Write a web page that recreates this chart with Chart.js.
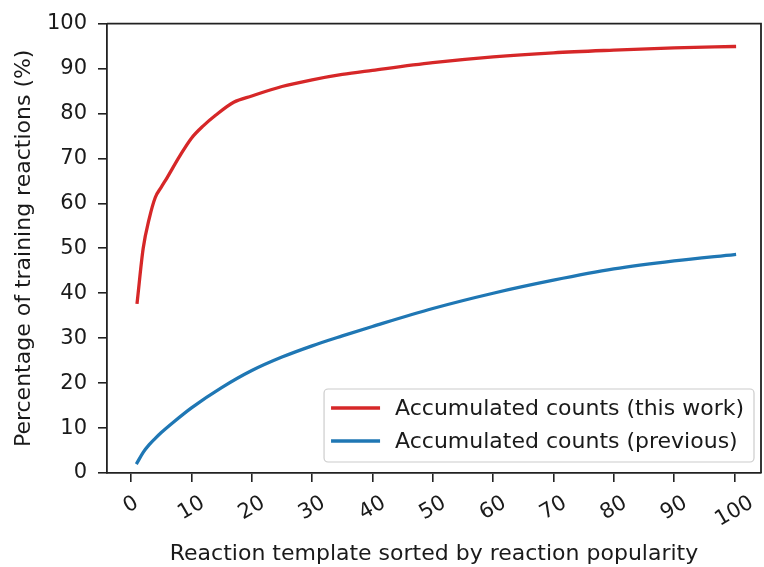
<!DOCTYPE html>
<html>
<head>
<meta charset="utf-8">
<script src="https://cdn.jsdelivr.net/npm/chart.js@4.4.0/dist/chart.umd.min.js"></script>
<style>
  html, body { margin: 0; padding: 0; background: #fff; overflow: hidden; }
  canvas { display: block; }
</style>
</head>
<body>
<canvas id="popularityChart" width="764" height="567"></canvas>
<script>
// data
const redRank = [1, 2, 3, 4, 5, 6, 8, 10, 12, 14, 17, 20, 25, 30, 35, 40, 50, 60, 70, 80, 90, 100];
const redPct = [38.0, 50.0, 56.6, 61.3, 63.6, 65.8, 70.4, 74.5, 77.3, 79.6, 82.5, 83.9, 86.0, 87.5, 88.7, 89.6, 91.3, 92.6, 93.5, 94.1, 94.6, 94.9];
const blueRank = [1, 2, 3, 4, 5, 7, 10, 15, 20, 25, 30, 35, 40, 50, 60, 70, 80, 90, 100];
const bluePct = [2.3, 4.6, 6.3, 7.7, 9.0, 11.3, 14.5, 19.0, 22.8, 25.8, 28.3, 30.5, 32.6, 36.6, 40.0, 42.9, 45.4, 47.2, 48.6];
const xTicks = [0, 10, 20, 30, 40, 50, 60, 70, 80, 90, 100];
const yTicks = [0, 10, 20, 30, 40, 50, 60, 70, 80, 90, 100];
const seriesLabels = ['Accumulated counts (this work)', 'Accumulated counts (previous)'];
const seriesColors = ['#d62728', '#1f77b4'];

const FONT = "'DejaVu Sans', sans-serif";
const TEXT = '#1a1a1a';
const AXIS = '#222222';

function toPoints(xs, ys) {
    return xs.map((x, i) => ({ x: x, y: ys[i] }));
}

// top and right spines
const framePlugin = {
    id: 'frame',
    afterDraw(chart) {
        const { ctx, chartArea: a } = chart;
        ctx.save();
        ctx.strokeStyle = AXIS;
        ctx.lineWidth = 1.8;
        ctx.beginPath();
        ctx.moveTo(a.left, a.top);
        ctx.lineTo(a.right, a.top);
        ctx.lineTo(a.right, a.bottom);
        ctx.stroke();
        ctx.restore();
    }
};

// rotated x tick labels, centred under the tick like matplotlib
const xLabelPlugin = {
    id: 'xLabels',
    afterDraw(chart) {
        const { ctx, chartArea: a } = chart;
        const scale = chart.scales.x;
        const size = 21;
        const ang = Math.PI / 6;
        ctx.save();
        ctx.font = size + 'px ' + FONT;
        ctx.fillStyle = TEXT;
        ctx.textAlign = 'center';
        ctx.textBaseline = 'middle';
        scale.ticks.forEach(t => {
            const label = String(t.value);
            const w = ctx.measureText(label).width;
            const boxH = w * Math.sin(ang) + size * 1.164 * Math.cos(ang);
            const cx = scale.getPixelForValue(t.value);
            const cy = a.bottom + 18 + boxH / 2;
            ctx.save();
            ctx.translate(cx, cy);
            ctx.rotate(-ang);
            ctx.fillText(label, 0, 0);
            ctx.restore();
        });
        ctx.restore();
    }
};

// legend box in the lower right of the plot
const legendBoxPlugin = {
    id: 'legendBox',
    afterDatasetsDraw(chart) {
        const { ctx, chartArea: a } = chart;
        ctx.save();
        ctx.font = '22px ' + FONT;
        const textW = Math.max(...seriesLabels.map(s => ctx.measureText(s).width));
        const w = 7 + 49 + 15 + textW + 10;
        const h = 73;
        const right = a.right - 7;
        const bottom = a.bottom - 11;
        const left = right - w;
        const top = bottom - h;

        ctx.beginPath();
        ctx.roundRect(left, top, w, h, 4);
        ctx.fillStyle = 'rgba(255,255,255,0.8)';
        ctx.fill();
        ctx.strokeStyle = '#cccccc';
        ctx.lineWidth = 1.2;
        ctx.stroke();

        seriesLabels.forEach((label, i) => {
            const y = top + 19 + i * 33;
            ctx.beginPath();
            ctx.moveTo(left + 7, y);
            ctx.lineTo(left + 56, y);
            ctx.strokeStyle = seriesColors[i];
            ctx.lineWidth = 3.3;
            ctx.stroke();
            ctx.fillStyle = TEXT;
            ctx.textAlign = 'left';
            ctx.textBaseline = 'middle';
            ctx.fillText(label, left + 71, y + 1);
        });
        ctx.restore();
    }
};

const ctx = document.getElementById('popularityChart').getContext('2d');

new Chart(ctx, {
    type: 'line',
    data: {
        datasets: [
            {
                label: seriesLabels[0],
                data: toPoints(redRank, redPct),
                borderColor: seriesColors[0],
                borderWidth: 3.3,
                pointRadius: 0,
                cubicInterpolationMode: 'monotone',
                borderCapStyle: 'square',
                fill: false
            },
            {
                label: seriesLabels[1],
                data: toPoints(blueRank, bluePct),
                borderColor: seriesColors[1],
                borderWidth: 3.3,
                pointRadius: 0,
                cubicInterpolationMode: 'monotone',
                borderCapStyle: 'square',
                fill: false
            }
        ]
    },
    options: {
        responsive: false,
        animation: false,
        layout: {
            padding: { top: 23, right: 3, left: 0, bottom: 0 }
        },
        plugins: {
            legend: { display: false },
            tooltip: { enabled: false }
        },
        scales: {
            x: {
                type: 'linear',
                min: -4.0,
                max: 104.4,
                afterBuildTicks: scale => {
                    scale.ticks = xTicks.map(v => ({ value: v }));
                },
                afterFit: scale => {
                    scale.height = 94;
                },
                grid: {
                    drawOnChartArea: false,
                    drawTicks: true,
                    tickLength: 9,
                    color: AXIS,
                    lineWidth: 1.6
                },
                border: { display: true, color: AXIS, width: 1.8 },
                ticks: { display: false },
                title: {
                    display: true,
                    text: 'Reaction template sorted by reaction popularity',
                    color: TEXT,
                    font: { family: FONT, size: 22 },
                    padding: { top: 0, bottom: 0 }
                }
            },
            y: {
                min: 0,
                max: 100,
                afterBuildTicks: scale => {
                    scale.ticks = yTicks.map(v => ({ value: v }));
                },
                afterFit: scale => {
                    scale.width = 107;
                },
                grid: {
                    drawOnChartArea: false,
                    drawTicks: true,
                    tickLength: 9,
                    color: AXIS,
                    lineWidth: 1.6
                },
                border: { display: true, color: AXIS, width: 1.8 },
                ticks: {
                    autoSkip: false,
                    padding: 11,
                    color: TEXT,
                    font: { family: FONT, size: 21 }
                },
                title: {
                    display: true,
                    text: 'Percentage of training reactions (%)',
                    color: TEXT,
                    font: { family: FONT, size: 22 },
                    padding: { top: 11, bottom: 0 }
                }
            }
        }
    },
    plugins: [framePlugin, xLabelPlugin, legendBoxPlugin]
});
</script>
</body>
</html>
